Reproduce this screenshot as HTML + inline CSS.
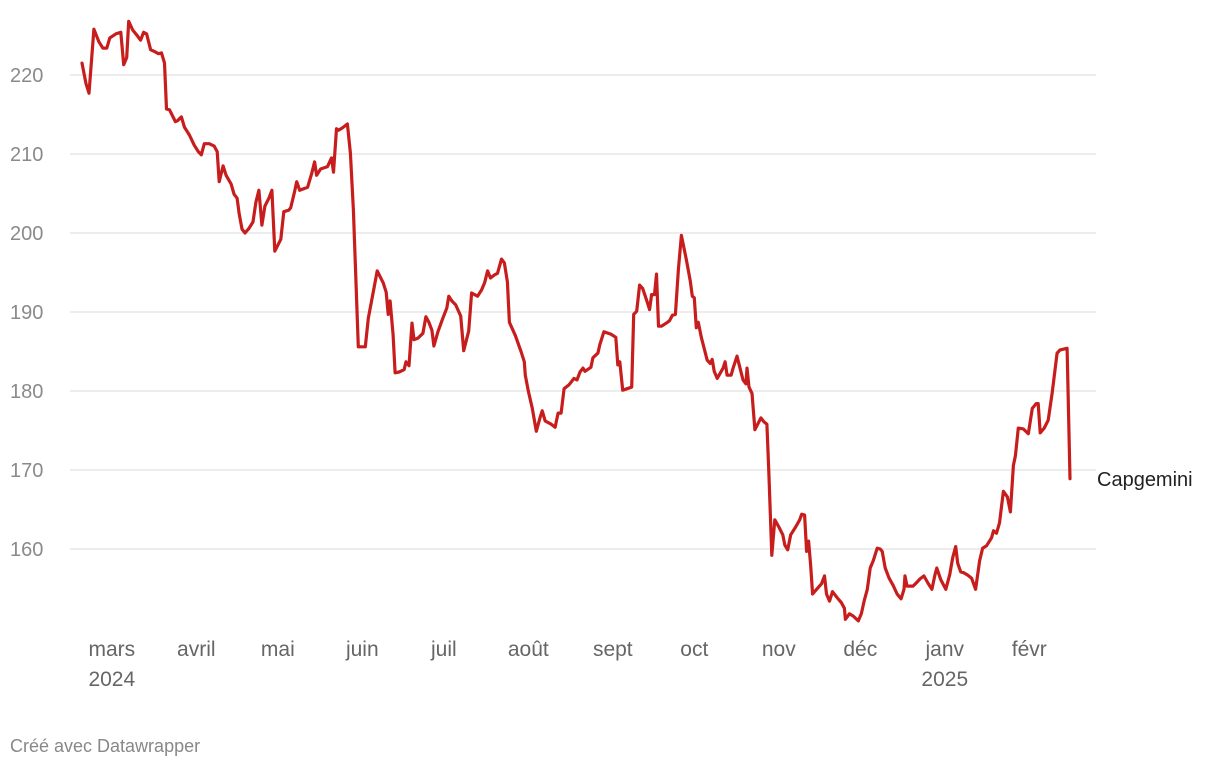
<!DOCTYPE html>
<html><head><meta charset="utf-8"><style>
html,body{margin:0;padding:0;background:#fff;}
body{width:1220px;height:768px;overflow:hidden;font-family:"Liberation Sans",sans-serif;}
svg text{font-family:"Liberation Sans",sans-serif;}
</style></head><body>
<svg id="chart" width="1220" height="768" viewBox="0 0 1220 768" xmlns="http://www.w3.org/2000/svg">
<g id="grid"></g>
<g id="yaxis"></g>
<g id="xaxis"></g>
<path id="line" fill="none" stroke="#c71e1d" stroke-width="3.2" stroke-linejoin="round" stroke-linecap="round"></path>
<text x="1097" y="486" font-size="20" fill="#222">Capgemini</text>
<text x="10" y="752" font-size="18" fill="#888">Créé avec Datawrapper</text>
</svg>
<script>
// time in thousandths of a year since 2024-02-19
const times=[0,4,7,12,17,21,25,28,34,39,42,45,47,51,56,59,62,65,69,74,77,80,83,85,88,94,96,100,103,108,113,117,120,123,128,133,136,138,142,145,150,153,156,158,161,164,168,172,175,178,181,184,188,191,194,200,203,208,210,214,216,219,227,231,234,236,240,247,251,253,256,258,262,267,270,273,278,281,285,288,293,297,303,306,308,310,313,315,319,324,326,329,332,334,338,343,346,349,352,354,358,363,367,369,372,376,381,384,389,392,398,402,405,408,411,415,418,422,425,428,430,436,442,445,446,449,453,457,461,463,466,472,476,479,482,485,490,495,498,501,504,506,512,514,519,521,525,532,537,539,541,544,551,553,555,558,561,564,568,571,573,576,578,580,583,589,591,594,597,600,603,608,612,614,616,618,620,623,629,632,634,636,639,645,647,649,653,655,659,665,668,669,671,674,677,683,686,689,691,694,697,701,705,707,710,713,718,722,724,727,729,731,733,735,739,744,747,749,752,755,760,764,767,768,772,776,781,784,787,790,793,796,800,803,805,808,812,816,820,824,827,828,830,836,840,843,847,851,855,858,860,864,869,873,876,879,881,884,887,891,895,899,903,906,910,915,917,920,923,927,931,934,937,939,942,947,952,956,960,962,964,968,972,976,981,984,991,994];
const prices=[221.5,218.9,217.7,225.8,224.2,223.4,223.4,224.7,225.2,225.4,221.3,222.2,226.8,225.7,224.9,224.4,225.4,225.2,223.2,222.9,222.7,222.8,221.5,215.7,215.6,214.1,214.2,214.7,213.4,212.4,211.1,210.3,209.9,211.3,211.3,211.0,210.3,206.5,208.5,207.3,206.2,204.9,204.4,202.5,200.5,200.0,200.6,201.4,203.9,205.4,201.0,203.4,204.4,205.4,197.7,199.2,202.7,202.9,203.2,205.3,206.5,205.4,205.8,207.5,209.0,207.3,208.1,208.4,209.5,207.7,213.2,213.0,213.3,213.8,210.1,202.9,185.6,185.6,185.6,189.2,192.5,195.2,193.7,192.5,189.7,191.4,187.1,182.3,182.4,182.7,183.7,183.2,188.6,186.5,186.7,187.3,189.4,188.7,187.7,185.7,187.5,189.2,190.5,192.0,191.4,190.9,189.5,185.1,187.6,192.4,192.0,192.8,193.7,195.2,194.3,194.7,194.9,196.7,196.2,193.8,188.7,187.0,184.9,183.7,182.0,180.0,177.8,174.9,176.7,177.5,176.2,175.8,175.4,177.2,177.2,180.3,180.8,181.6,181.4,182.4,182.9,182.5,183.0,184.2,184.8,185.9,187.5,187.2,186.8,183.3,183.7,180.1,180.4,180.5,189.7,190.1,193.4,193.0,191.5,190.3,192.2,192.2,194.8,188.2,188.2,188.7,188.9,189.6,189.7,195.4,199.7,196.6,193.9,192.0,191.8,188.0,188.7,186.8,183.9,183.5,184.0,182.5,181.6,182.9,183.7,182.0,182.0,182.9,184.4,181.4,180.9,182.9,180.5,179.7,175.1,176.6,176.1,175.8,169.5,159.2,163.7,162.8,161.8,160.5,159.9,161.8,162.8,163.7,164.4,164.3,159.7,161.0,158.0,154.3,154.9,155.6,156.6,154.3,153.4,154.6,153.8,153.2,152.5,151.1,151.8,151.5,150.9,151.8,153.5,154.9,157.6,158.5,160.1,160.0,159.7,157.6,156.3,155.4,154.3,153.7,154.9,156.6,155.3,155.3,155.8,156.2,156.6,155.7,154.9,156.7,157.6,156.1,154.9,156.8,158.9,160.3,158.2,157.1,157.0,156.7,156.3,154.9,158.5,160.1,160.4,161.4,162.3,162.0,163.3,167.3,166.6,164.7,170.6,171.8,175.3,175.2,174.6,177.8,178.4,178.4,174.7,175.3,176.3,179.7,184.8,185.2,185.4,168.9];
const yTicks=[160,170,180,190,200,210,220];
const monthLabels=["mars","avril","mai","juin","juil","août","sept","oct","nov","déc","janv","févr"];
const monthTimes=[30,115,197,282,364,449,534,616,701,783,868,953];
const yearLabels=[["2024",0],["2025",10]];

const NS="http://www.w3.org/2000/svg";
function xS(t){return 82+t*0.994;}
function yS(v){return 75+(220-v)*7.9;}

const grid=document.getElementById('grid'),yax=document.getElementById('yaxis'),xax=document.getElementById('xaxis');
yTicks.forEach(v=>{
  const l=document.createElementNS(NS,'line');
  
  
  l.setAttribute('x1',70);l.setAttribute('x2',1096);
  l.setAttribute('y1',yS(v));l.setAttribute('y2',yS(v));
  l.setAttribute('stroke','#e2e2e2');l.setAttribute('stroke-width','1.3');
  grid.appendChild(l);
  const t=document.createElementNS(NS,'text');
  
  
  t.setAttribute('x',10);t.setAttribute('y',yS(v)+7);
  t.setAttribute('font-size','20');t.setAttribute('fill','#8a8a8a');
  t.textContent=v;
  yax.appendChild(t);
});
monthLabels.forEach((m,i)=>{
  const t=document.createElementNS(NS,'text');
  
  
  t.setAttribute('x',xS(monthTimes[i]));t.setAttribute('y',656);
  t.setAttribute('text-anchor','middle');
  t.setAttribute('font-size','21');t.setAttribute('fill','#666');
  t.textContent=m;
  xax.appendChild(t);
});
yearLabels.forEach(([y,i])=>{
  const t=document.createElementNS(NS,'text');
  
  
  t.setAttribute('x',xS(monthTimes[i]));t.setAttribute('y',686);
  t.setAttribute('text-anchor','middle');
  t.setAttribute('font-size','21');t.setAttribute('fill','#666');
  t.textContent=y;
  xax.appendChild(t);
});
let d='';
times.forEach((t,i)=>{d+=(i?'L':'M')+xS(t).toFixed(1)+','+yS(prices[i]).toFixed(1);});
document.getElementById('line').setAttribute('d',d);
</script>
</body></html>
